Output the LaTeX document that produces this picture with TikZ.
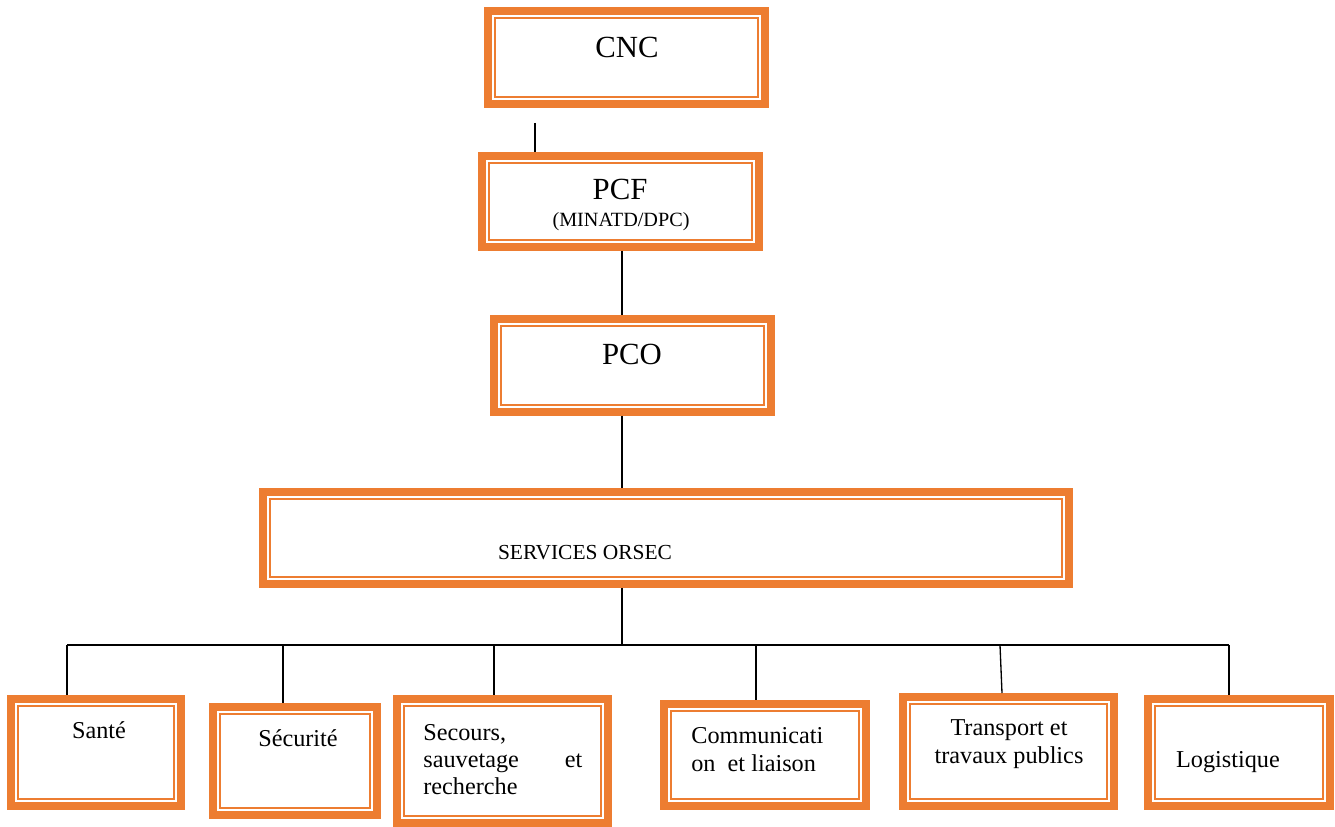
\documentclass[tikz,border=0pt]{standalone}
\usepackage{fontspec}
\setmainfont{Liberation Serif}
\usepackage{tikz}
\definecolor{OrsecOrange}{HTML}{ED7D31}
\tikzset{
  orgbox/.style={draw=OrsecOrange,line width=0.16cm,fill=white,inner sep=0pt},
  innerrule/.style={draw=OrsecOrange,line width=0.04cm},
  link/.style={draw=black,line width=0.75pt},
  bigtxt/.style={font=\fontsize{17.5}{20}\selectfont,inner sep=0pt},
  midtxt/.style={font=\fontsize{11.5}{14}\selectfont,inner sep=0pt},
  boxtxt/.style={font=\fontsize{13.8}{15.5}\selectfont,inner sep=0pt},
}

\begin{document}
\begin{tikzpicture}[x=0.02cm,y=-0.02cm]
\path[use as bounding box] (0,0) rectangle (1335,827);
% command chain
\node[orgbox,minimum width=5.54cm,minimum height=1.86cm] (cnc) at (626.5,57.5) {};
\node[orgbox,minimum width=5.54cm,minimum height=1.82cm] (pcf) at (620.5,201.5) {};
\node[orgbox,minimum width=5.54cm,minimum height=1.86cm] (pco) at (632.5,365.5) {};
\node[orgbox,minimum width=16.12cm,minimum height=1.84cm] (orsec) at (666,538) {};
% services
\node[orgbox,minimum width=3.40cm,minimum height=2.14cm] (sante) at (96,752.5) {};
\node[orgbox,minimum width=3.28cm,minimum height=2.16cm] (secu) at (295,761) {};
\node[orgbox,minimum width=4.22cm,minimum height=2.48cm] (secours) at (502.5,761) {};
\node[orgbox,minimum width=4.04cm,minimum height=2.04cm] (comm) at (765,755) {};
\node[orgbox,minimum width=4.22cm,minimum height=2.18cm] (transp) at (1008.5,751.5) {};
\node[orgbox,minimum width=3.64cm,minimum height=2.14cm] (logist) at (1239,752.5) {};
\foreach \n in {cnc,pcf,pco,orsec,sante,secu,secours,comm,transp,logist}
  \draw[innerrule] ([shift={(0.22cm,-0.22cm)}]\n.north west) rectangle ([shift={(-0.22cm,0.22cm)}]\n.south east);
% labels
\node[bigtxt,anchor=base] (cnc-t) at (627,58) {CNC};
\node[bigtxt,anchor=base] (pcf-t) at (620,200) {PCF};
\node[midtxt,anchor=base] (pcf-s) at (621,227) {(MINATD/DPC)};
\node[bigtxt,anchor=base] (pco-t) at (632,364) {PCO};
\node[font=\fontsize{12.2}{14}\selectfont,inner sep=0pt,anchor=base] (orsec-t) at (585,559) {SERVICES ORSEC};
\node[boxtxt,anchor=base] (sante-t) at (99,738) {Santé};
\node[boxtxt,anchor=base] (secu-t) at (298,746) {Sécurité};
\node[boxtxt,anchor=base west,align=left,text width=3.18cm] (secours-t) at (423,740) {Secours,\\sauvetage\hfill et\\recherche};
\node[boxtxt,anchor=base west,align=left] (comm-t) at (691,771) {Communicati\\on\ \ et liaison};
\node[boxtxt,anchor=base,align=center] (transp-t) at (1009,763) {Transport et\\travaux publics};
\node[boxtxt,anchor=base] (logist-t) at (1228,767) {Logistique};
% links
\coordinate (stub) at (535,123);
\coordinate (hub) at (622,645);
\coordinate (busL) at (67,645);
\coordinate (busR) at (1229,645);
\draw[link] (stub) -- (stub |- pcf.north);
\draw[link] (pcf.south -| hub) -- (pco.north -| hub);
\draw[link] (pco.south -| hub) -- (orsec.north -| hub);
\draw[link] (orsec.south -| hub) -- (hub);
\draw[link] (busL) -- (busR);
\foreach \n/\xa/\xb in {sante/67/67,secu/283/283,secours/494/494,comm/756/756,transp/1000/1002,logist/1229/1229}
  \draw[link] (busL -| \xa,0) -- (\n.north -| \xb,0);
\end{tikzpicture}
\end{document}
